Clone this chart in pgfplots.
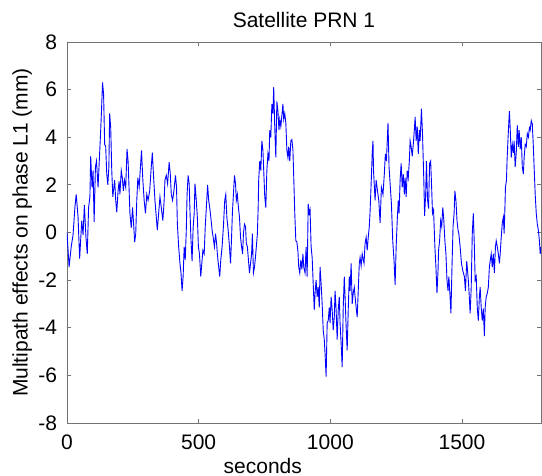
\documentclass[border=0pt]{standalone}
\usepackage{fontspec}
\setmainfont{Liberation Sans}
\usepackage{pgfplots}
\pgfplotsset{compat=1.18}
\definecolor{lineblue}{RGB}{0,0,255}
\begin{document}
\begin{tikzpicture}
\begin{axis}[
  scale only axis, width=237pt, height=190.5pt,
  xmin=0, xmax=1800, ymin=-8, ymax=8,
  xtick={0,500,1000,1500}, ytick={-8,-6,-4,-2,0,2,4,6,8},
  tick align=inside, major tick length=2pt,
  axis line style={black!55}, tick style={black!55, line width=0.4pt},
  /pgf/number format/assume math mode=true,
  /pgf/number format/set thousands separator={},
  ticklabel style={font=\fontsize{10.5}{12}\selectfont},
  yticklabel style={xshift=-1.5pt},
  xticklabel style={yshift=-2.5pt},
  title={Satellite PRN 1},
  title style={at={(axis description cs:0.5,1)}, anchor=base, yshift=1pt, font=\fontsize{10.5}{12}\selectfont},
  xlabel={seconds},
  xlabel style={at={(axis description cs:0.413,0)}, anchor=base, yshift=-25.5pt, font=\fontsize{10.5}{12}\selectfont},
  ylabel={Multipath effects on phase L1 (mm)},
  ylabel style={at={(axis description cs:-0.059,0.5)}, anchor=south, font=\fontsize{10.5}{12}\selectfont},
]
\addplot[lineblue, line width=0.45pt] coordinates {
(0,0) (8,-1.45) (16,-0.6) (23,-0.1) (30,1.05) (35,1.6) (42,0.65) (48,-1.1) (56,0.5) (61,-0.1) (66,1.15) (72,-0.2) (77,-0.9) (82,1.05) (87,1.5) (90,3.2) (95,1.9) (99,2.6) (103,0.45) (108,2.75) (112,3.0) (118,1.9) (123,3.1) (128,4.3) (132,5.4) (135,6.3) (139,5.8) (143,3.7) (147,3.6) (151,2.45) (155,2.0) (159,2.75) (162,5.0) (166,4.4) (170,2.6) (174,1.5) (178,1.9) (181,2.2) (185,1.35) (189,0.85) (194,1.75) (198,2.15) (201,1.6) (206,2.6) (210,2.3) (214,1.75) (218,2.2) (223,1.9) (228,3.5) (232,3.0) (236,1.75) (239,0.8) (244,0.2) (249,1.05) (253,0.35) (257,-0.4) (261,-0.05) (265,1.35) (269,2.3) (274,1.9) (279,2.75) (283,3.45) (288,2.2) (293,1.35) (298,0.8)
(303,1.6) (308,1.35) (314,1.75) (319,2.6) (324,3.35) (329,2.3) (334,1.35) (339,0.65) (343,0.1) (348,0.8) (353,1.5) (358,1.05) (364,0.5) (369,1.35) (372,2.2) (377,2.4) (382,2.05) (388,2.95) (392,2.5) (396,1.6) (401,1.35) (406,1.75) (412,2.4) (416,1.9) (419,0.4) (424,-0.6) (429,-1.3) (433,-1.7) (437,-2.45) (441,-1.85) (445,-0.6) (449,-1.15) (453,0.1) (456,1.6) (460,2.4) (464,2.05) (467,0.9) (471,-0.35) (475,-1.2) (479,0.2) (483,0.8) (486,2.05) (490,1.5) (495,0.65) (499,-0.6) (503,-0.9) (508,-1.85) (512,-1.3) (516,-0.75) (521,-0.9) (525,0.25) (530,1.2) (534,2.0) (538,1.35) (542,1.05) (546,0.65) (551,0.1) (555,-0.2) (560,-0.6) (564,-0.05) (568,-0.45) (571,-0.9) (576,-1.45) (580,-1.85) (584,-1.15) (589,-0.6) (594,0.25) (599,1.35) (603,1.6)
(607,0.65) (612,0.1) (617,-0.6) (621,-1.3) (625,-0.2) (628,0.8) (632,1.6) (636,2.4) (640,2.05) (643,1.35) (647,1.6) (651,1.05) (655,0.65) (659,-0.2) (663,-0.6) (667,-0.9) (670,-0.05) (674,0.35) (678,0.25) (681,-0.45) (685,-0.6) (689,-1.15) (693,-1.7) (697,-1.3) (701,-0.9) (704,-0.05) (708,-1.7) (712,-1.45) (716,-1.0) (719,-0.6) (723,-0.05) (726,1.05) (728,2.2) (732,3.0) (736,2.6) (740,3.85) (744,3.45) (748,2.35) (751,1.5) (755,1.05) (759,2.6) (763,3.3) (767,3.0) (770,4.3) (774,4.0) (778,5.4) (782,5.0) (785,6.1) (789,4.4) (793,3.15) (797,5.5) (801,5.1) (805,4.3) (808,4.75) (812,4.45) (816,4.9) (820,5.4) (823,4.75) (827,5.0) (831,4.6) (835,3.45) (839,3.15) (842,3.6) (846,3.0) (850,3.85) (854,3.9) (858,3.45) (861,2.35) (865,0.8) (869,-0.35) (873,-0.4) (877,-0.8) (880,-1.45) (884,-1.7) (888,-1.15) (892,-1.55) (896,-0.9) (899,-1.45)
(904,-1.7) (908,-0.6) (912,-1.85) (916,1.2) (920,0.8) (923,0.95) (927,-0.6) (931,-1.05) (935,-2.15) (939,-3.25) (942,-2.55) (946,-2.0) (950,-2.7) (954,-2.3) (958,-3.15) (961,-1.45) (965,-2.15) (969,-3.0) (973,-4.1) (977,-4.5) (980,-5.1) (984,-6.05) (988,-3.8) (992,-3.7) (996,-3.15) (999,-3.8) (1003,-2.7) (1007,-3.25) (1011,-4.1) (1015,-3.55) (1018,-2.45) (1022,-3.25) (1026,-4.5) (1030,-3.25) (1034,-2.7) (1037,-3.8) (1041,-4.65) (1045,-5.65) (1049,-3.15) (1053,-1.85) (1056,-2.7) (1060,-3.95) (1064,-4.95) (1068,-3.25) (1072,-1.85) (1075,-2.45) (1079,-1.3) (1083,-3.0) (1087,-2.55) (1091,-2.3) (1094,-2.7) (1098,-3.15) (1102,-3.55) (1106,-2.45) (1110,-1.3) (1113,-1.05) (1117,-1.4) (1121,-0.9) (1125,-1.15) (1128,-1.3) (1132,-0.45) (1136,-0.2) (1140,-0.75) (1144,-0.2) (1148,0.25) (1151,0.9) (1155,2.05) (1159,3.3) (1162,3.85)
(1164,2.6) (1170,1.35) (1174,2.2) (1179,1.75) (1184,1.35) (1189,0.4) (1194,1.9) (1200,1.6) (1205,2.45) (1209,3.3) (1213,3.0) (1219,4.6) (1223,2.75) (1227,2.05) (1232,1.2) (1237,-0.35) (1242,-1.2) (1246,-2.2) (1250,-0.6) (1254,0.5) (1258,1.35) (1261,0.8) (1265,2.2) (1269,2.9) (1273,1.9) (1277,2.45) (1281,1.6) (1284,2.3) (1288,1.5) (1292,2.6) (1296,2.3) (1300,3.0) (1303,3.85) (1307,3.6) (1311,3.2) (1315,3.7) (1319,4.3) (1322,4.85) (1326,3.85) (1330,4.45) (1334,3.3) (1338,4.3) (1341,3.85) (1346,5.2) (1350,4.15) (1355,2.2) (1358,0.7) (1362,1.6) (1365,3.0) (1369,1.4) (1373,1.0) (1377,2.9) (1381,3.0) (1385,1.8) (1388,0.8) (1392,0.95) (1397,-0.6) (1401,-1.45) (1405,-2.55) (1409,-1.6) (1411,-0.75) (1415,-0.35) (1419,0.5) (1423,0.25) (1427,1.05) (1431,0.5) (1435,-0.35) (1439,-0.9) (1443,-2.0) (1447,-2.45) (1450,-1.85) (1454,-2.55) (1458,-3.4) (1462,-1.45) (1466,0.25) (1470,0.8) (1473,1.75) (1477,1.35) (1481,0.5) (1485,0.1) (1488,-0.05) (1493,-0.6) (1498,-1.3) (1503,-1.6) (1509,-1.85)
(1513,-2.45) (1518,-1.2) (1524,-2.0) (1527,-2.55) (1531,-3.4) (1535,-2.3) (1539,-0.05) (1543,0.8) (1547,-0.6) (1550,-2.0) (1554,-1.85) (1558,-3.15) (1562,-3.7) (1566,-2.7) (1569,-2.3) (1573,-3.15) (1577,-3.7) (1581,-3.2) (1585,-4.35) (1588,-3.15) (1592,-2.7) (1596,-2.55) (1600,-2.3) (1604,-1.45) (1607,-1.2) (1611,-0.9) (1615,-1.45) (1619,-0.9) (1623,-1.7) (1627,-0.6) (1630,-0.35) (1634,-0.6) (1638,-0.9) (1642,-1.3) (1645,-0.9) (1649,-0.2) (1653,0.4) (1657,0.65) (1660,-0.05) (1663,1.05) (1665,1.9) (1669,2.2) (1671,3.0) (1675,4.0) (1680,5.1) (1683,4.4) (1687,3.15) (1691,3.7) (1695,3.35) (1698,3.85) (1702,2.75) (1706,3.35) (1710,4.5) (1714,3.6) (1717,4.3) (1721,3.5) (1725,4.0) (1729,2.75) (1733,2.45) (1736,3.15) (1740,3.7) (1744,3.6) (1748,4.15) (1752,4.0) (1756,4.4) (1759,4.3) (1763,4.7) (1767,4.55) (1771,3.6) (1775,2.45) (1778,1.6) (1782,0.8) (1786,0.35) (1790,0.1) (1794,-0.35) (1797,-0.9) (1800,-0.6)
};
\coordinate (SW) at (rel axis cs:0,0);
\coordinate (NE) at (rel axis cs:1,1);
\end{axis}
\pgfresetboundingbox
\path[use as bounding box] ([xshift=-33.5pt,yshift=-26.5pt]SW) rectangle ([xshift=0.5pt,yshift=21pt]NE);
\end{tikzpicture}
\end{document}
